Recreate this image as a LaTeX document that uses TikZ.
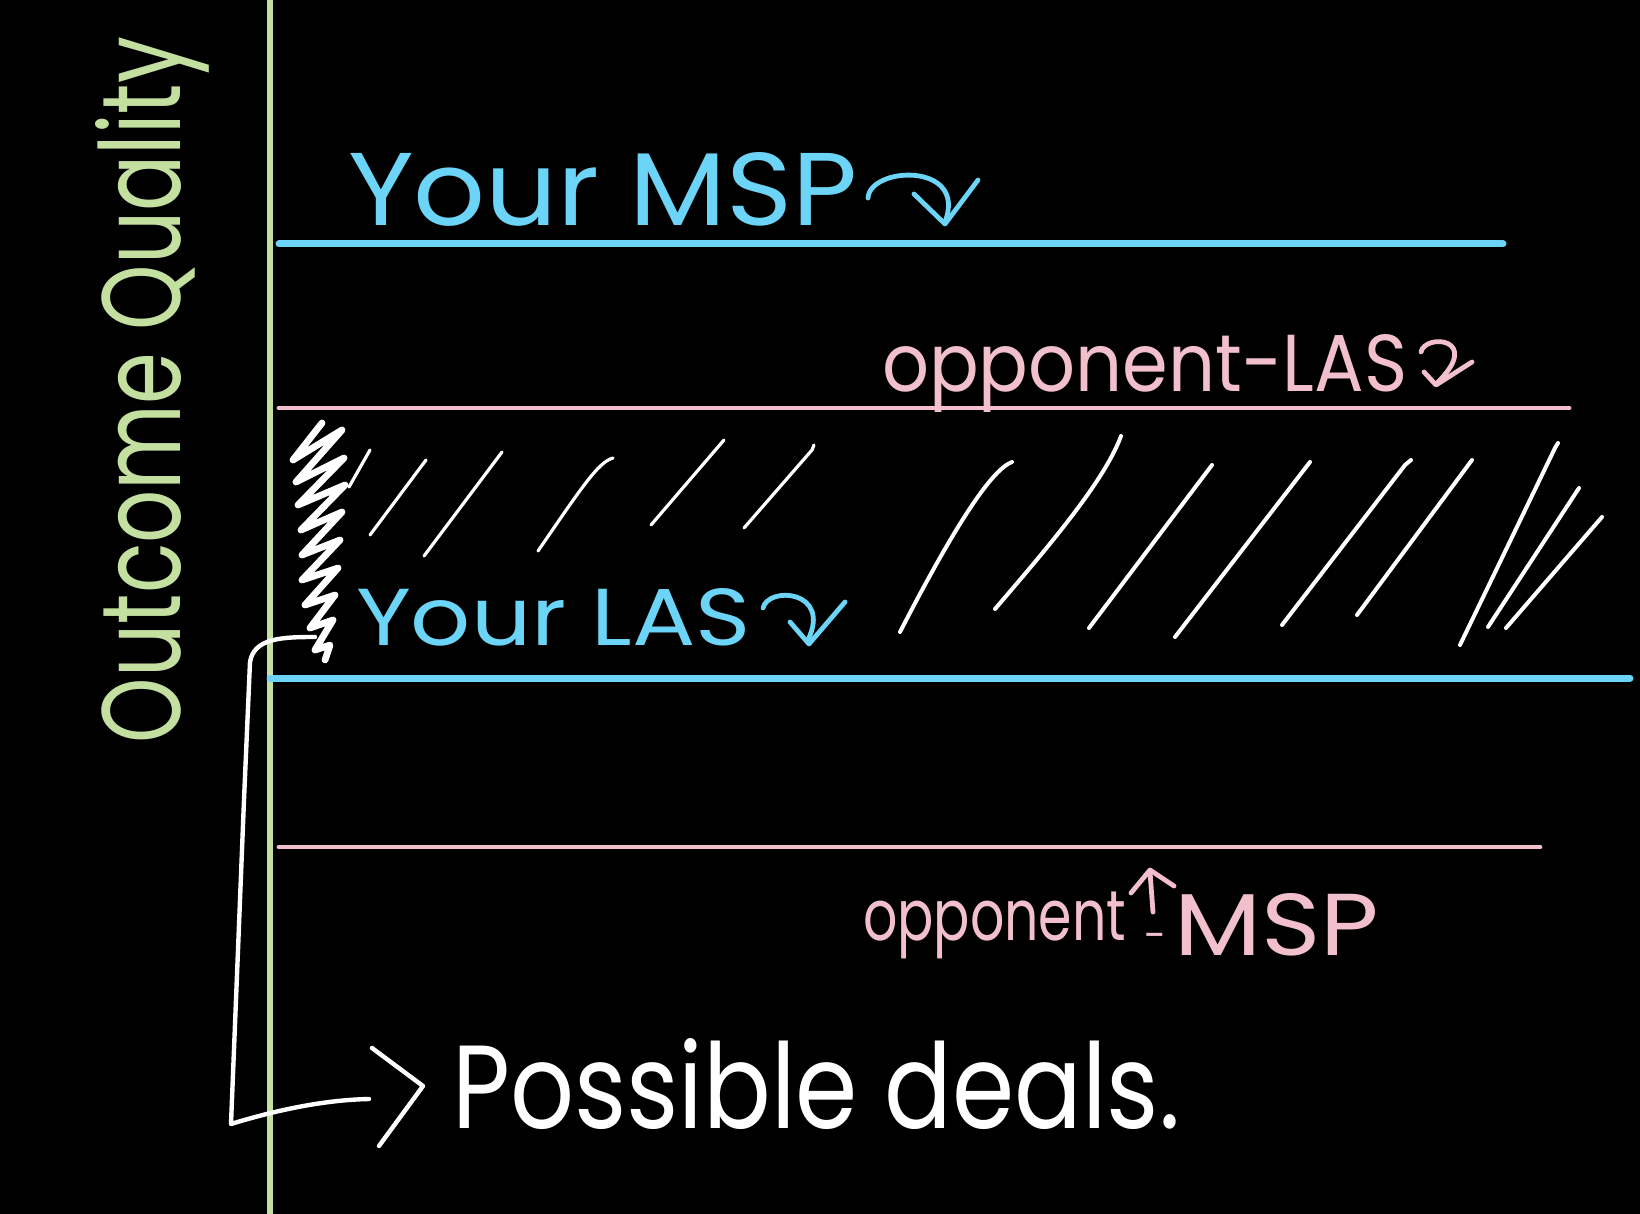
\documentclass[tikz,border=0pt]{standalone}
\usepackage{fontspec}
\setmainfont{Poppins}
\usepackage{graphicx}
\definecolor{axisgreen}{RGB}{196,224,160}
\definecolor{mspblue}{RGB}{108,212,246}
\definecolor{oppink}{RGB}{242,192,204}
\begin{document}
\begin{tikzpicture}[x=0.5pt,y=-0.5pt,
  hw/.style={inner sep=0pt, outer sep=0pt, anchor=base west},
  axisline/.style={draw=axisgreen, line width=3pt},
  blueline/.style={draw=mspblue, line width=3.5pt, line cap=round},
  pinkline/.style={draw=oppink, line width=2.4pt, line cap=round},
  curlyarrow/.style={line width=2.4pt, line cap=round, line join=round},
  hatchline/.style={draw=white, line width=2pt, line cap=round},
  thinhatch/.style={draw=white, line width=1.6pt, line cap=round},
  zigzag/.style={draw=white, line width=3.4pt, line cap=round, line join=round},
  bracketline/.style={draw=white, line width=2.2pt, line cap=round, line join=round}]
\fill[black] (0,0) rectangle (1640,1214);
\useasboundingbox (0,0) rectangle (1640,1214);

% axis
\draw[axisline] (270,0) -- (270,1214);
\node[text=axisgreen, rotate=90, anchor=base, inner sep=0pt] (quality) at (180,390)
  {\resizebox{353pt}{42.5pt}{Outcome Quality}};

% level lines
\draw[blueline] (279,244) -- (1503,244);
\draw[pinkline] (279,408) -- (1569,408);
\draw[blueline] (270,678) -- (1630,678);
\draw[pinkline] (279,847) -- (1540,847);

% labels
\node[hw, text=mspblue] (yourmsp) at (348,226) {\resizebox{255pt}{36.5pt}{Your MSP}};
\node[hw, text=oppink] (opplas) at (882,392) {\resizebox{262.5pt}{28.5pt}{opponent-LAS}};
\node[hw, text=mspblue] (yourlas) at (356,646) {\resizebox{197.5pt}{28.5pt}{Your LAS}};
\node[hw, text=oppink] (oppmspa) at (863,940) {\resizebox*{131.5pt}{33.5pt}{opponent}};
\node[text=oppink, inner sep=0pt, anchor=center] (oppdash) at (1155,941) {\resizebox{11pt}{!}{-}};
\node[hw, text=oppink] (oppmspb) at (1174,955) {\resizebox{102.5pt}{31pt}{MSP}};
\node[hw, text=white] (deals) at (452,1128) {\resizebox{364pt}{45pt}{Possible deals.}};

% curly arrows
\draw[curlyarrow, mspblue] (868,198) .. controls (870,166) and (968,162) .. (945,222);
\draw[curlyarrow, mspblue] (914,194) -- (945,224) -- (978,180);
\draw[curlyarrow, oppink] (1421,352) .. controls (1425,333) and (1484,338) .. (1436,384);
\draw[curlyarrow, oppink] (1424,372) -- (1436,385) -- (1472,362);
\draw[curlyarrow, mspblue] (763,608) .. controls (768,586) and (832,590) .. (808,640);
\draw[curlyarrow, mspblue] (790,622) -- (809,644) -- (845,602);
\draw[curlyarrow, oppink] (1153,912) -- (1150,872);
\draw[curlyarrow, oppink] (1131,893) -- (1150,870) -- (1174,886);

% hatching (left group)
\draw[thinhatch] (349,487) -- (370,450);
\draw[thinhatch] (370,535) -- (426,460);
\draw[thinhatch] (424,556) -- (502,452);
\draw[thinhatch] (538,551) .. controls (580,490) and (598,462) .. (613,458);
\draw[thinhatch] (651,525) -- (724,440);
\draw[thinhatch] (744,528) -- (812,450) -- (814,445);
% hatching (right group)
\draw[hatchline] (900,632) .. controls (950,535) and (990,470) .. (1012,462);
\draw[hatchline] (995,609) .. controls (1050,545) and (1105,480) .. (1121,436);
\draw[hatchline] (1089,628) -- (1212,465);
\draw[hatchline] (1175,637) -- (1310,462);
\draw[hatchline] (1282,625) -- (1405,465) -- (1411,460);
\draw[hatchline] (1357,615) -- (1472,460);
\draw[hatchline] (1460,645) -- (1555,448) -- (1558,443);
\draw[hatchline] (1488,627) -- (1579,488);
\draw[hatchline] (1506,628) -- (1602,517);

% zigzag marking the bargaining zone
\draw[zigzag] (322,423) -- (293,460) -- (342,430) -- (296,482) -- (344,458) -- (298,505)
  -- (345,485) -- (301,530) -- (342,512) -- (302,555) -- (340,540) -- (302,580)
  -- (338,568) -- (305,605) -- (335,595) -- (310,628) -- (333,620) -- (315,650)
  -- (330,645) -- (325,660);

% bracket to "Possible deals."
\coordinate (zzfoot) at (315,637);
\coordinate (brend) at (369,1099);
\draw[bracketline] (zzfoot) .. controls (282,637) and (254,638) .. (250,662)
  -- (244,800) -- (238,950) -- (231,1124) .. controls (270,1112) and (320,1100) .. (brend);
\draw[bracketline] (372,1048) -- (423,1086) -- (379,1146);
\end{tikzpicture}
\end{document}
